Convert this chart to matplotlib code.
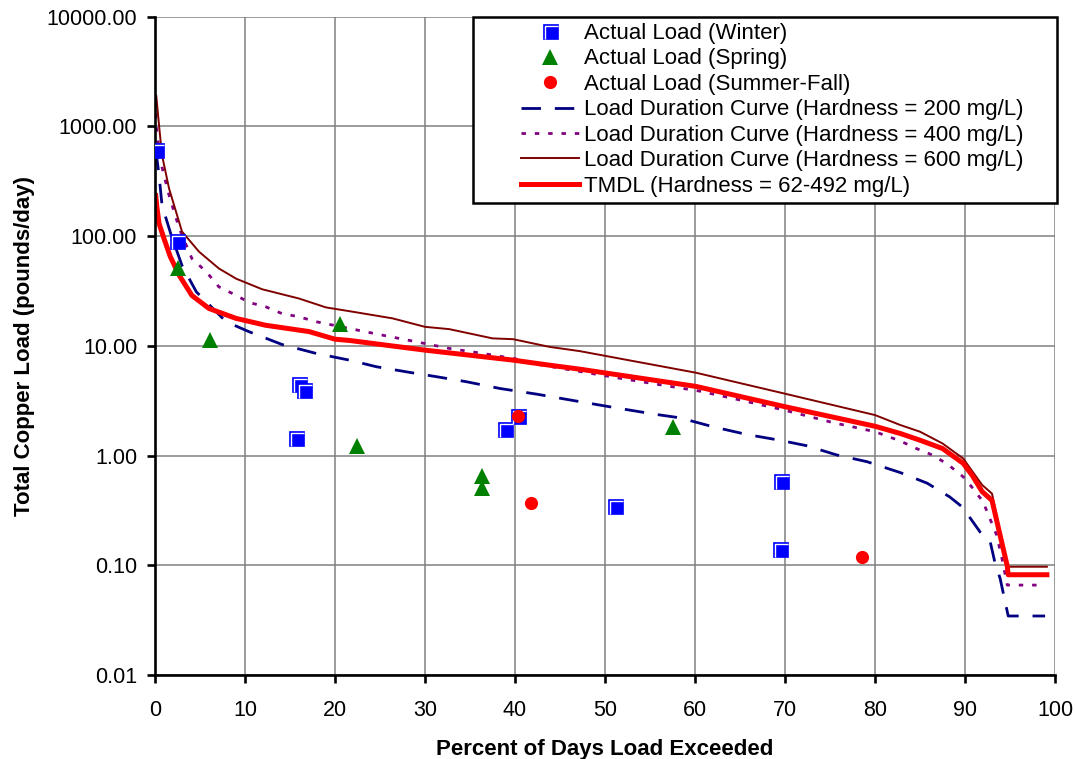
import matplotlib
matplotlib.use('Agg')
import matplotlib.pyplot as plt
from matplotlib.path import Path
from matplotlib.patches import Rectangle
from matplotlib.ticker import FixedLocator, FormatStrFormatter, NullLocator

plt.rcParams['font.family'] = ['Liberation Sans', 'DejaVu Sans']

# measured loads (pounds/day) vs percent of days exceeded
winter_x = [0.1, 2.4, 15.7, 16.0, 16.5, 38.9, 40.3, 51.1, 69.4, 69.6]
winter_y = [615, 91, 1.44, 4.45, 3.93, 1.73, 2.28, 0.35, 0.14, 0.59]
spring_x = [2.6, 6.1, 20.6, 22.4, 36.3, 36.3, 57.6]
spring_y = [50.7, 11.2, 15.7, 1.21, 0.65, 0.51, 1.81]
summer_x = [40.3, 41.8, 78.5]
summer_y = [2.3, 0.37, 0.12]

# load duration curves
h200_x = [0.1, 0.45, 0.78, 1.8, 3.0, 4.6, 5.7, 7.9, 10.5, 14.1, 17.9, 21.6, 24.6, 28.3,
          31.3, 34.6, 38.3, 42.4, 47.2, 51.6, 55.7, 58.3, 62.0, 65.7, 69.4, 72.4, 75.8,
          79.1, 82.8, 85.8, 88.3, 89.7, 91.7, 92.8, 93.3, 93.9, 94.8, 98.9]
h200_y = [600, 359, 191, 102, 54, 31, 25.2, 16.6, 13.4, 10.3, 8.53, 7.41, 6.45, 5.73,
          5.23, 4.71, 4.09, 3.63, 3.10, 2.69, 2.37, 2.21, 1.83, 1.56, 1.38, 1.23, 1.01,
          0.88, 0.70, 0.56, 0.42, 0.34, 0.20, 0.164, 0.108, 0.076, 0.0345, 0.0345]
h400_x = [0.08, 0.17, 0.63, 1.56, 2.7, 4.1, 5.7, 7.1, 8.6, 10.5, 12.3, 14.1, 16.0, 17.9,
          21.6, 25.3, 29.0, 32.7, 36.4, 40.2, 41.9, 51.3, 60.5, 64.2, 69.9, 75.3, 80.0,
          82.8, 84.6, 86.4, 88.1, 89.8, 90.9, 92.0, 93.5, 94.1, 94.7, 98.9]
h400_y = [1300, 955, 475, 236, 117, 62.5, 47.3, 34.5, 30, 24.8, 22.7, 19.7, 18.4, 16.6,
          14.4, 12.5, 10.9, 9.47, 8.53, 7.57, 6.92, 5.12, 3.87, 3.32, 2.60, 2.0, 1.65,
          1.36, 1.16, 1.01, 0.83, 0.64, 0.50, 0.38, 0.19, 0.116, 0.066, 0.066]
h600_x = [0.14, 0.45, 0.78, 1.56, 3.0, 4.9, 7.1, 9.0, 11.9, 16.0, 19.0, 21.6, 26.4, 30.0,
          32.7, 37.5, 39.8, 43.8, 47.2, 60.1, 69.9, 80.0, 82.8, 85.0, 87.5, 89.8, 91.9,
          93.0, 94.7, 99.1]
h600_y = [1900, 1020, 546, 272, 110, 72, 50.7, 41, 32.8, 27, 22.4, 20.7, 17.8, 14.9,
          14.2, 11.7, 11.5, 9.8, 8.95, 5.69, 3.68, 2.34, 1.90, 1.65, 1.29, 0.94, 0.54,
          0.45, 0.097, 0.097]
tmdl_x = [0.08, 0.2, 0.45, 1.0, 1.7, 2.7, 4.1, 6.0, 9.0, 12.3, 17.1, 20.0, 21.6, 30.0,
          39.8, 43.8, 47.2, 60.1, 69.9, 80.0, 82.8, 85.0, 87.5, 89.8, 90.8, 91.9, 93.0,
          94.7, 94.8, 99.1]
tmdl_y = [234, 186, 130, 95, 65, 43.8, 28.8, 21.9, 17.8, 15.4, 13.5, 11.5, 11.2, 9.14,
          7.41, 6.67, 6.13, 4.27, 2.80, 1.85, 1.59, 1.38, 1.16, 0.85, 0.66, 0.47, 0.39,
          0.098, 0.082, 0.082]

y_ticks = [0.01, 0.1, 1, 10, 100, 1000, 10000]
x_ticks = list(range(0, 101, 10))

W, H = 1075, 759
fig = plt.figure(figsize=(W / 100, H / 100), dpi=100)
ax = fig.add_axes([155 / W, 1 - 675 / H, (1055 - 155) / W, (675 - 16.7) / H])

# curves
l200, = ax.plot(h200_x, h200_y, color='#000080', lw=2.0, dashes=(7, 5), zorder=2)
l400, = ax.plot(h400_x, h400_y, color='#800080', lw=2.0, dashes=(1.6, 3.2), zorder=2)
l600, = ax.plot(h600_x, h600_y, color='#800000', lw=1.4, zorder=2)
ltm, = ax.plot(tmdl_x, tmdl_y, color='#FF0000', lw=3.6, zorder=2)

# white inner corner like excel's square markers
corner = Path([(-0.33, -0.5), (-0.33, 0.33), (0.5, 0.33)],
              [Path.MOVETO, Path.LINETO, Path.LINETO])

sq, = ax.plot(winter_x, winter_y, ls='none', marker='s', ms=10.8, color='#0000FF',
              mec='#0000FF', mew=0.5, zorder=3)
sqc, = ax.plot(winter_x, winter_y, ls='none', marker=corner, ms=10.8, mfc='none',
               mec='white', mew=1.0, zorder=3.1)
tri, = ax.plot(spring_x, spring_y, ls='none', marker='^', ms=11, color='#008000',
               mew=0, zorder=3.2)
cir, = ax.plot(summer_x, summer_y, ls='none', marker='o', ms=9.5, color='#FF0000',
               mew=0, zorder=3.3)

ax.set_yscale('log')
ax.set_xlim(0, 100)
ax.set_ylim(0.01, 10000)
ax.yaxis.set_major_locator(FixedLocator(y_ticks))
ax.yaxis.set_minor_locator(NullLocator())
ax.yaxis.set_major_formatter(FormatStrFormatter('%.2f'))
ax.set_xticks(x_ticks)

ax.grid(True, color='#808080', lw=1.1, zorder=0)
ax.set_axisbelow(True)
for s in ['top', 'right']:
    ax.spines[s].set_visible(False)
for s in ['left', 'bottom']:
    ax.spines[s].set_linewidth(1.9)
    ax.spines[s].set_color('black')
ax.tick_params(axis='both', direction='out', length=5.8, width=1.9, labelsize=15.5,
               color='black')
ax.tick_params(axis='y', pad=7)
ax.tick_params(axis='x', pad=12)

ax.set_xlabel('Percent of Days Load Exceeded', fontsize=16, fontweight='bold', labelpad=13)
ax.set_ylabel('Total Copper Load (pounds/day)', fontsize=16, fontweight='bold', labelpad=8.5)

# legend box drawn separately (excel leaves a wide gap left of the symbols)
box = Rectangle((473 / W, 1 - 202.7 / H), (1057 - 473) / W, (202.7 - 16.7) / H,
                transform=fig.transFigure, facecolor='white', edgecolor='black',
                lw=1.8, zorder=4, clip_on=False)
ax.add_patch(box)

handles = [(sq, sqc), tri, cir, l200, l400, l600, ltm]
labels = ['Actual Load (Winter)', 'Actual Load (Spring)', 'Actual Load (Summer-Fall)',
          'Load Duration Curve (Hardness = 200 mg/L)',
          'Load Duration Curve (Hardness = 400 mg/L)',
          'Load Duration Curve (Hardness = 600 mg/L)',
          'TMDL (Hardness = 62-492 mg/L)']
leg = ax.legend(handles, labels, loc='upper left', bbox_to_anchor=(520.7 / W, 1 - 23 / H),
                bbox_transform=fig.transFigure, fontsize=16, numpoints=1,
                handlelength=2.62, handletextpad=0.23, labelspacing=0.2, borderpad=0,
                borderaxespad=0, frameon=False)
leg.set_zorder(5)

fig.savefig('out.png', dpi=100)
